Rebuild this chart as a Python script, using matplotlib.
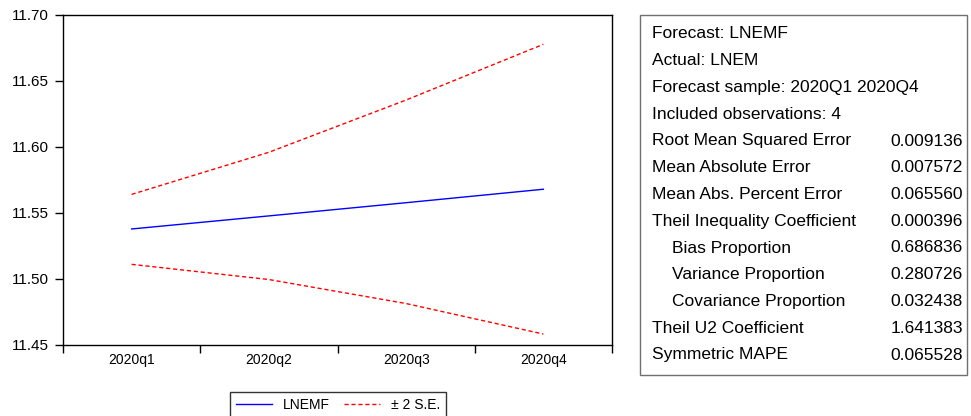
import matplotlib
matplotlib.use("Agg")
import matplotlib.pyplot as plt
from matplotlib.patches import Rectangle

plt.rcParams['font.family'] = ['Liberation Sans', 'DejaVu Sans']

quarters = ["2020q1", "2020q2", "2020q3", "2020q4"]
forecast = [11.5379, 11.5478, 11.5578, 11.5680]
upper = [11.5641, 11.5960, 11.6356, 11.6778]
lower = [11.5111, 11.4996, 11.4814, 11.4583]

stat_labels = ["Forecast: LNEMF", "Actual: LNEM", "Forecast sample: 2020Q1 2020Q4",
               "Included observations: 4", "Root Mean Squared Error", "Mean Absolute Error",
               "Mean Abs. Percent Error", "Theil Inequality Coefficient", "Bias Proportion",
               "Variance Proportion", "Covariance Proportion", "Theil U2 Coefficient",
               "Symmetric MAPE"]
stat_values = ["", "", "", "", "0.009136", "0.007572", "0.065560", "0.000396",
               "0.686836", "0.280726", "0.032438", "1.641383", "0.065528"]
stat_indent = [0, 0, 0, 0, 0, 0, 0, 0, 1, 1, 1, 0, 0]

W, H = 971, 416
fig = plt.figure(figsize=(W / 100, H / 100), dpi=100)
ax = fig.add_axes([63 / W, 1 - 345 / H, (612 - 63) / W, (345 - 15) / H])

x = list(range(len(quarters)))
l1, = ax.plot(x, forecast, color=(0, 0, 1), lw=1.0, label="LNEMF")
l2, = ax.plot(x, upper, color=(1, 0, 0), lw=1.0, ls=(0, (3, 2)), label="\u00b1 2 S.E.")
ax.plot(x, lower, color=(1, 0, 0), lw=1.0, ls=(0, (3, 2)))

yt = [11.45, 11.50, 11.55, 11.60, 11.65, 11.70]
ax.set_xlim(-0.5, 3.5)
ax.set_ylim(11.45, 11.70)
ax.set_yticks(yt)
ax.set_yticklabels([f"{v:.2f}" for v in yt])
ax.set_xticks([-0.5, 0.5, 1.5, 2.5, 3.5])
ax.set_xticklabels([])
ax.set_xticks(x, minor=True)
ax.set_xticklabels(quarters, minor=True)
ax.tick_params(axis='x', which='major', length=6, width=1, direction='out')
ax.tick_params(axis='x', which='minor', length=0, pad=6, labelsize=10)
ax.tick_params(axis='y', length=6, width=1, direction='out', labelsize=11, pad=4)
for s in ax.spines.values():
    s.set_linewidth(1.0)
    s.set_color('black')

leg = fig.legend(handles=[l1, l2], loc='upper center',
                 bbox_to_anchor=(338 / W, 1 - 392 / H), ncol=2, frameon=True,
                 fancybox=False, edgecolor='black', fontsize=10, handlelength=2.6,
                 borderpad=0.4, columnspacing=1.0, handletextpad=0.8, borderaxespad=0)
leg.get_frame().set_linewidth(1.0)

# statistics box
bx0, bx1, by0, by1 = 640, 967, 15, 375
fig.patches.append(Rectangle((bx0 / W, 1 - by1 / H), (bx1 - bx0) / W, (by1 - by0) / H,
                             transform=fig.transFigure, fill=False, edgecolor='#707070', lw=1.0))
row0, dy = 34, 26.75
for i, (lab, val, ind) in enumerate(zip(stat_labels, stat_values, stat_indent)):
    yy = 1 - (row0 + i * dy) / H
    fig.text((652 + 20 * ind) / W, yy, lab, fontsize=12.5, va='center', ha='left')
    if val:
        fig.text(963 / W, yy, val, fontsize=12.5, va='center', ha='right')

fig.savefig("out.png", dpi=100)
